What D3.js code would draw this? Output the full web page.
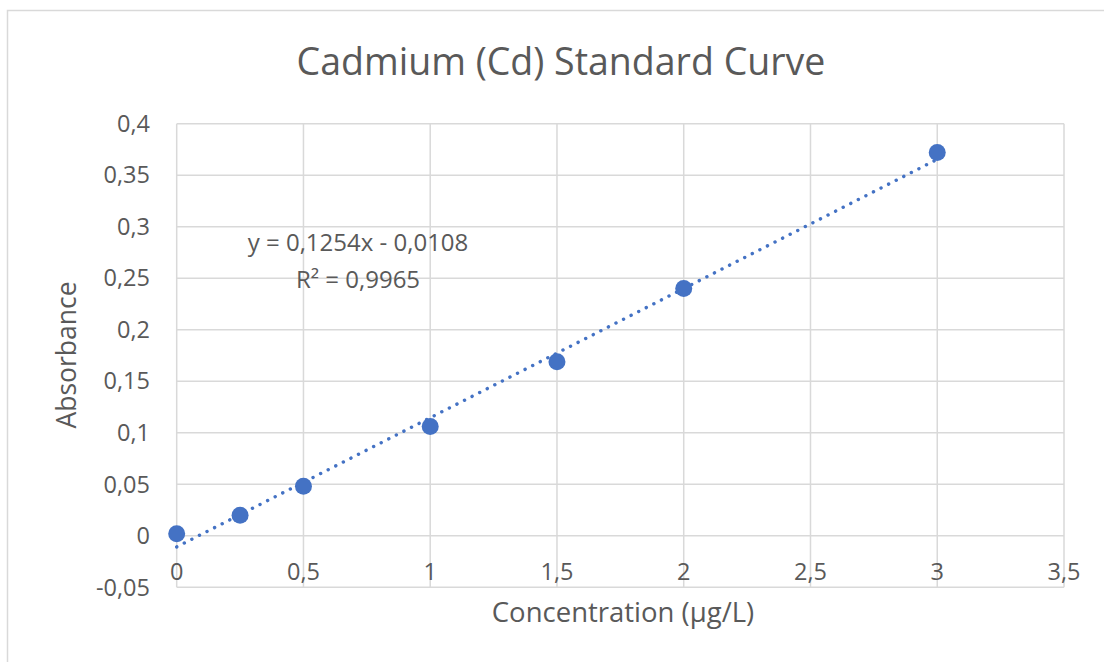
<!DOCTYPE html>
<html>
<head>
<meta charset="utf-8">
<script src="https://cdn.jsdelivr.net/npm/d3@7"></script>
<style>
  body { margin: 0; background: #fff; }
  svg text { font-family: "Open Sans", "Noto Sans", sans-serif; fill: #595959; }
</style>
</head>
<body>
<svg width="1104" height="662"></svg>
<script>
// data
var concentration = [0, 0.25, 0.5, 1, 1.5, 2, 3];
var absorbance = [0.002, 0.020, 0.048, 0.106, 0.169, 0.240, 0.372];
var xTicks = [0, 0.5, 1, 1.5, 2, 2.5, 3, 3.5];
var yTicks = [-0.05, 0, 0.05, 0.1, 0.15, 0.2, 0.25, 0.3, 0.35, 0.4];
var slope = 0.1254, intercept = -0.0108, r2 = 0.9965;

var svg = d3.select("svg");
var blue = "#4472C4";
var comma = function(d){ return String(d).replace(".", ","); };

// chart border (only top and left are visible)
svg.append("rect")
  .attr("x", 7.5).attr("y", 10.5)
  .attr("width", 1200).attr("height", 800)
  .attr("fill", "none").attr("stroke", "#d9d9d9").attr("stroke-width", 1.5);

var x = d3.scaleLinear().domain([0, 3.5]).range([176.7, 1064]);
var y = d3.scaleLinear().domain([-0.05, 0.4]).range([587.3, 123.7]);

// gridlines
svg.append("g").selectAll("line.h").data(yTicks).enter().append("line")
  .attr("x1", x(0)).attr("x2", x(3.5))
  .attr("y1", function(d){ return y(d); }).attr("y2", function(d){ return y(d); })
  .attr("stroke", "#d9d9d9").attr("stroke-width", 1.5);
svg.append("g").selectAll("line.v").data(xTicks).enter().append("line")
  .attr("y1", y(-0.05)).attr("y2", y(0.4))
  .attr("x1", function(d){ return x(d); }).attr("x2", function(d){ return x(d); })
  .attr("stroke", "#d9d9d9").attr("stroke-width", 1.5);

// tick labels
svg.append("g").selectAll("text").data(yTicks).enter().append("text")
  .attr("x", 150).attr("y", function(d){ return y(d); })
  .attr("dy", "0.35em").attr("text-anchor", "end")
  .attr("font-size", 23.5)
  .text(comma);
svg.append("g").selectAll("text").data(xTicks).enter().append("text")
  .attr("x", function(d){ return x(d); }).attr("y", 572)
  .attr("dy", "0.35em").attr("text-anchor", "middle")
  .attr("font-size", 23.5)
  .text(comma);

// trendline
var line = d3.line()
  .x(function(d){ return x(d); })
  .y(function(d){ return y(slope * d + intercept); });
svg.append("path")
  .datum([0, 3])
  .attr("d", line)
  .attr("fill", "none").attr("stroke", blue)
  .attr("stroke-width", 3.4)
  .attr("stroke-linecap", "round")
  .attr("stroke-dasharray", "0.1 8.4");

// markers
svg.append("g").selectAll("circle").data(concentration).enter().append("circle")
  .attr("cx", function(d){ return x(d); })
  .attr("cy", function(d, i){ return y(absorbance[i]); })
  .attr("r", 8.5)
  .attr("fill", blue);

// title and axis titles
svg.append("text")
  .attr("x", 561).attr("y", 62).attr("dy", "0.35em")
  .attr("text-anchor", "middle").attr("font-size", 37.5)
  .text("Cadmium (Cd) Standard Curve");
svg.append("text")
  .attr("x", 623).attr("y", 612).attr("dy", "0.35em")
  .attr("text-anchor", "middle").attr("font-size", 27.5)
  .text("Concentration (µg/L)");
svg.append("text")
  .attr("transform", "translate(67,355) rotate(-90)")
  .attr("dy", "0.35em")
  .attr("text-anchor", "middle").attr("font-size", 26.5)
  .text("Absorbance");

// regression label
svg.append("text")
  .attr("x", 358).attr("y", 243).attr("dy", "0.35em")
  .attr("text-anchor", "middle").attr("font-size", 24)
  .text("y = " + comma(slope) + "x - " + comma(-intercept));
svg.append("text")
  .attr("x", 358).attr("y", 280).attr("dy", "0.35em")
  .attr("text-anchor", "middle").attr("font-size", 24)
  .text("R² = " + comma(r2));
</script>
</body>
</html>
